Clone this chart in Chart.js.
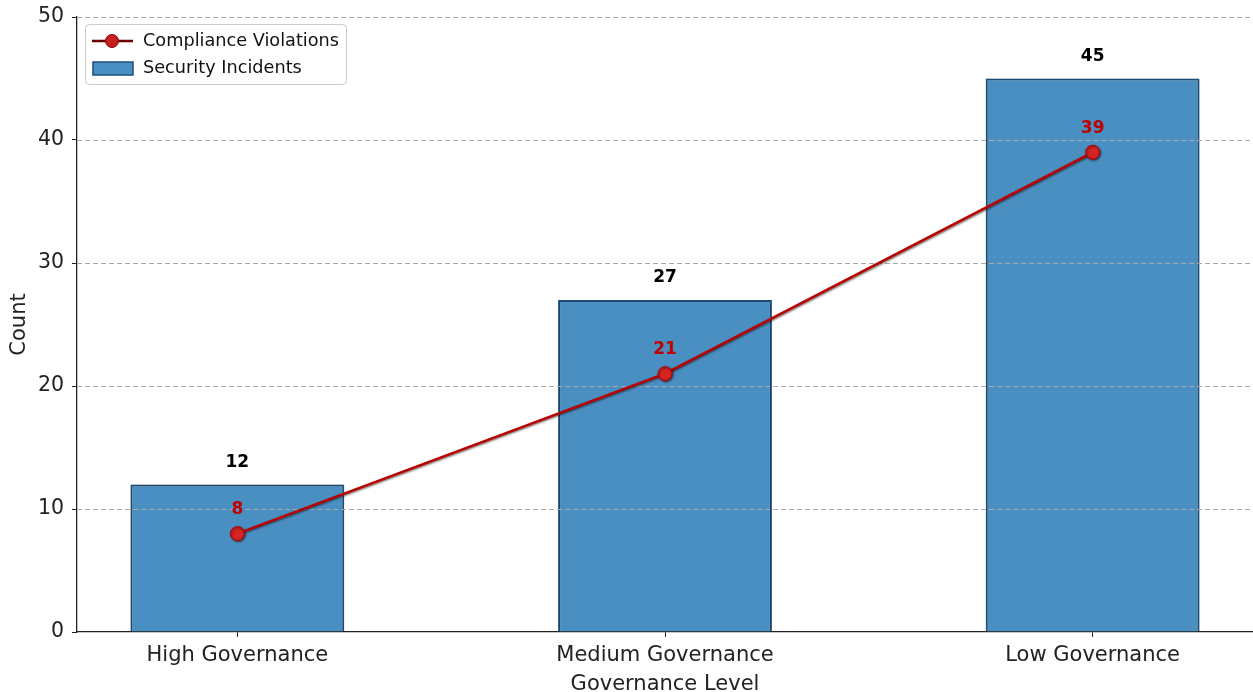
<!DOCTYPE html>
<html>
<head>
<meta charset="utf-8">
<script src="https://cdn.jsdelivr.net/npm/chart.js@4.4.1/dist/chart.umd.min.js"></script>
<style>
  html, body { margin: 0; padding: 0; background: #fff; }
  #wrap { width: 1253px; height: 692px; position: relative; }
</style>
</head>
<body>
<div id="wrap"><canvas id="chart"></canvas></div>
<script>
const categories = ['High Governance', 'Medium Governance', 'Low Governance'];
const securityIncidents = [12, 27, 45];
const complianceViolations = [8, 21, 39];
const yTicks = [0, 10, 20, 30, 40, 50];

const FONT = "'DejaVu Sans', sans-serif";

// gridlines sit above the bars but below the line
const gridOverBars = {
    id: 'gridOverBars',
    afterDatasetDraw(chart, args) {
        if (args.index !== 0) return;
        const ctx = chart.ctx;
        const y = chart.scales.y;
        const area = chart.chartArea;
        ctx.save();
        ctx.strokeStyle = '#a8a8a8';
        ctx.lineWidth = 1;
        ctx.setLineDash([5, 3]);
        yTicks.forEach(v => {
            if (v === 0) return;
            const py = Math.round(y.getPixelForValue(v)) + 0.5;
            ctx.beginPath();
            ctx.moveTo(area.left, py);
            ctx.lineTo(area.right, py);
            ctx.stroke();
        });
        ctx.restore();
    }
};

const shadows = {
    id: 'shadows',
    beforeDatasetDraw(chart, args) {
        const ctx = chart.ctx;
        ctx.save();
        if (args.index === 1) {
            ctx.shadowColor = 'rgba(40,0,0,0.6)';
            ctx.shadowBlur = 2;
            ctx.shadowOffsetX = 1;
            ctx.shadowOffsetY = 1;
        } else {
            ctx.shadowColor = 'rgba(0,0,0,0.25)';
            ctx.shadowBlur = 3;
        }
    },
    afterDatasetDraw(chart) {
        chart.ctx.restore();
    }
};

const valueLabels = {
    id: 'valueLabels',
    afterDatasetsDraw(chart) {
        const ctx = chart.ctx;
        ctx.save();
        ctx.textAlign = 'center';
        ctx.textBaseline = 'middle';
        ctx.font = 'bold 17px ' + FONT;
        ctx.fillStyle = '#000';
        chart.getDatasetMeta(0).data.forEach((bar, i) => {
            ctx.fillText(String(securityIncidents[i]), bar.x, bar.y - 22);
        });
        ctx.fillStyle = '#c00000';
        chart.getDatasetMeta(1).data.forEach((pt, i) => {
            ctx.fillText(String(complianceViolations[i]), pt.x, pt.y - 24);
        });
        ctx.restore();
    }
};

const legendBox = {
    id: 'legendBox',
    afterDraw(chart) {
        const ctx = chart.ctx;
        ctx.save();
        const x = 85, y = 24, w = 261, h = 60, r = 4;
        ctx.beginPath();
        ctx.roundRect(x + 0.5, y + 0.5, w, h, r);
        ctx.fillStyle = 'rgba(255,255,255,0.85)';
        ctx.fill();
        ctx.strokeStyle = '#cccccc';
        ctx.lineWidth = 1;
        ctx.stroke();

        // line entry
        ctx.strokeStyle = '#6b0000';
        ctx.lineWidth = 2.5;
        ctx.beginPath();
        ctx.moveTo(92, 41);
        ctx.lineTo(133, 41);
        ctx.stroke();
        ctx.beginPath();
        ctx.arc(112, 41, 6.5, 0, Math.PI * 2);
        ctx.fillStyle = '#c81e1e';
        ctx.fill();
        ctx.strokeStyle = '#8b0000';
        ctx.lineWidth = 1;
        ctx.stroke();

        // bar entry
        ctx.fillStyle = '#4a8fc2';
        ctx.fillRect(93, 62, 40, 13);
        ctx.strokeStyle = '#1f4e79';
        ctx.lineWidth = 1.5;
        ctx.strokeRect(93, 62, 40, 13);

        ctx.fillStyle = '#111';
        ctx.font = '17.7px ' + FONT;
        ctx.textAlign = 'left';
        ctx.textBaseline = 'middle';
        ctx.fillText('Compliance Violations', 143, 41);
        ctx.fillText('Security Incidents', 143, 68);
        ctx.restore();
    }
};

const barData = securityIncidents.map((v, i) => ({ x: i, y: v }));
const lineData = complianceViolations.map((v, i) => ({ x: i, y: v }));

new Chart(document.getElementById('chart'), {
    type: 'bar',
    data: {
        datasets: [
            {
                type: 'bar',
                label: 'Security Incidents',
                data: barData,
                backgroundColor: '#4a8fc2',
                borderColor: '#1f4e79',
                borderWidth: 2,
                barPercentage: 0.5,
                categoryPercentage: 1,
                order: 2
            },
            {
                type: 'line',
                label: 'Compliance Violations',
                data: lineData,
                borderColor: '#b80000',
                borderWidth: 2.5,
                pointRadius: 7,
                pointBackgroundColor: '#d42424',
                pointBorderColor: '#b00000',
                pointBorderWidth: 1,
                tension: 0,
                order: 1
            }
        ]
    },
    options: {
        responsive: true,
        maintainAspectRatio: false,
        animation: false,
        layout: { autoPadding: false, padding: { top: 17, right: 0, left: 0, bottom: 0 } },
        plugins: {
            legend: { display: false },
            tooltip: { enabled: false }
        },
        scales: {
            x: {
                type: 'linear',
                offset: false,
                min: -0.375,
                max: 2.375,
                afterBuildTicks(scale) {
                    scale.ticks = categories.map((c, i) => ({ value: i }));
                },
                afterFit(scale) {
                    scale.height = 60;
                    scale.paddingLeft = 0;
                    scale.paddingRight = 0;
                },
                ticks: {
                    callback: v => categories[v],
                    color: '#222',
                    font: { family: FONT, size: 21 },
                    padding: 6,
                    maxRotation: 0,
                    autoSkip: false
                },
                grid: { offset: false, drawOnChartArea: false, tickLength: 5, tickColor: '#222' },
                border: { color: '#222', width: 1.3 },
                title: {
                    display: true,
                    text: 'Governance Level',
                    color: '#222',
                    font: { family: FONT, size: 21 },
                    padding: { top: 0, bottom: -5 }
                }
            },
            y: {
                min: 0,
                max: 50,
                afterBuildTicks(scale) {
                    scale.ticks = yTicks.map(v => ({ value: v }));
                },
                afterFit(scale) {
                    scale.width = 77;
                    scale.paddingTop = 0;
                    scale.paddingBottom = 0;
                },
                ticks: {
                    color: '#222',
                    font: { family: FONT, size: 20.5 },
                    padding: 8
                },
                grid: { drawOnChartArea: false, tickLength: 5, tickColor: '#222' },
                border: { color: '#222', width: 1.3 },
                title: {
                    display: true,
                    text: 'Count',
                    color: '#222',
                    font: { family: FONT, size: 21 },
                    padding: { top: 7, bottom: 4 }
                }
            }
        }
    },
    plugins: [shadows, gridOverBars, valueLabels, legendBox]
});
</script>
</body>
</html>
